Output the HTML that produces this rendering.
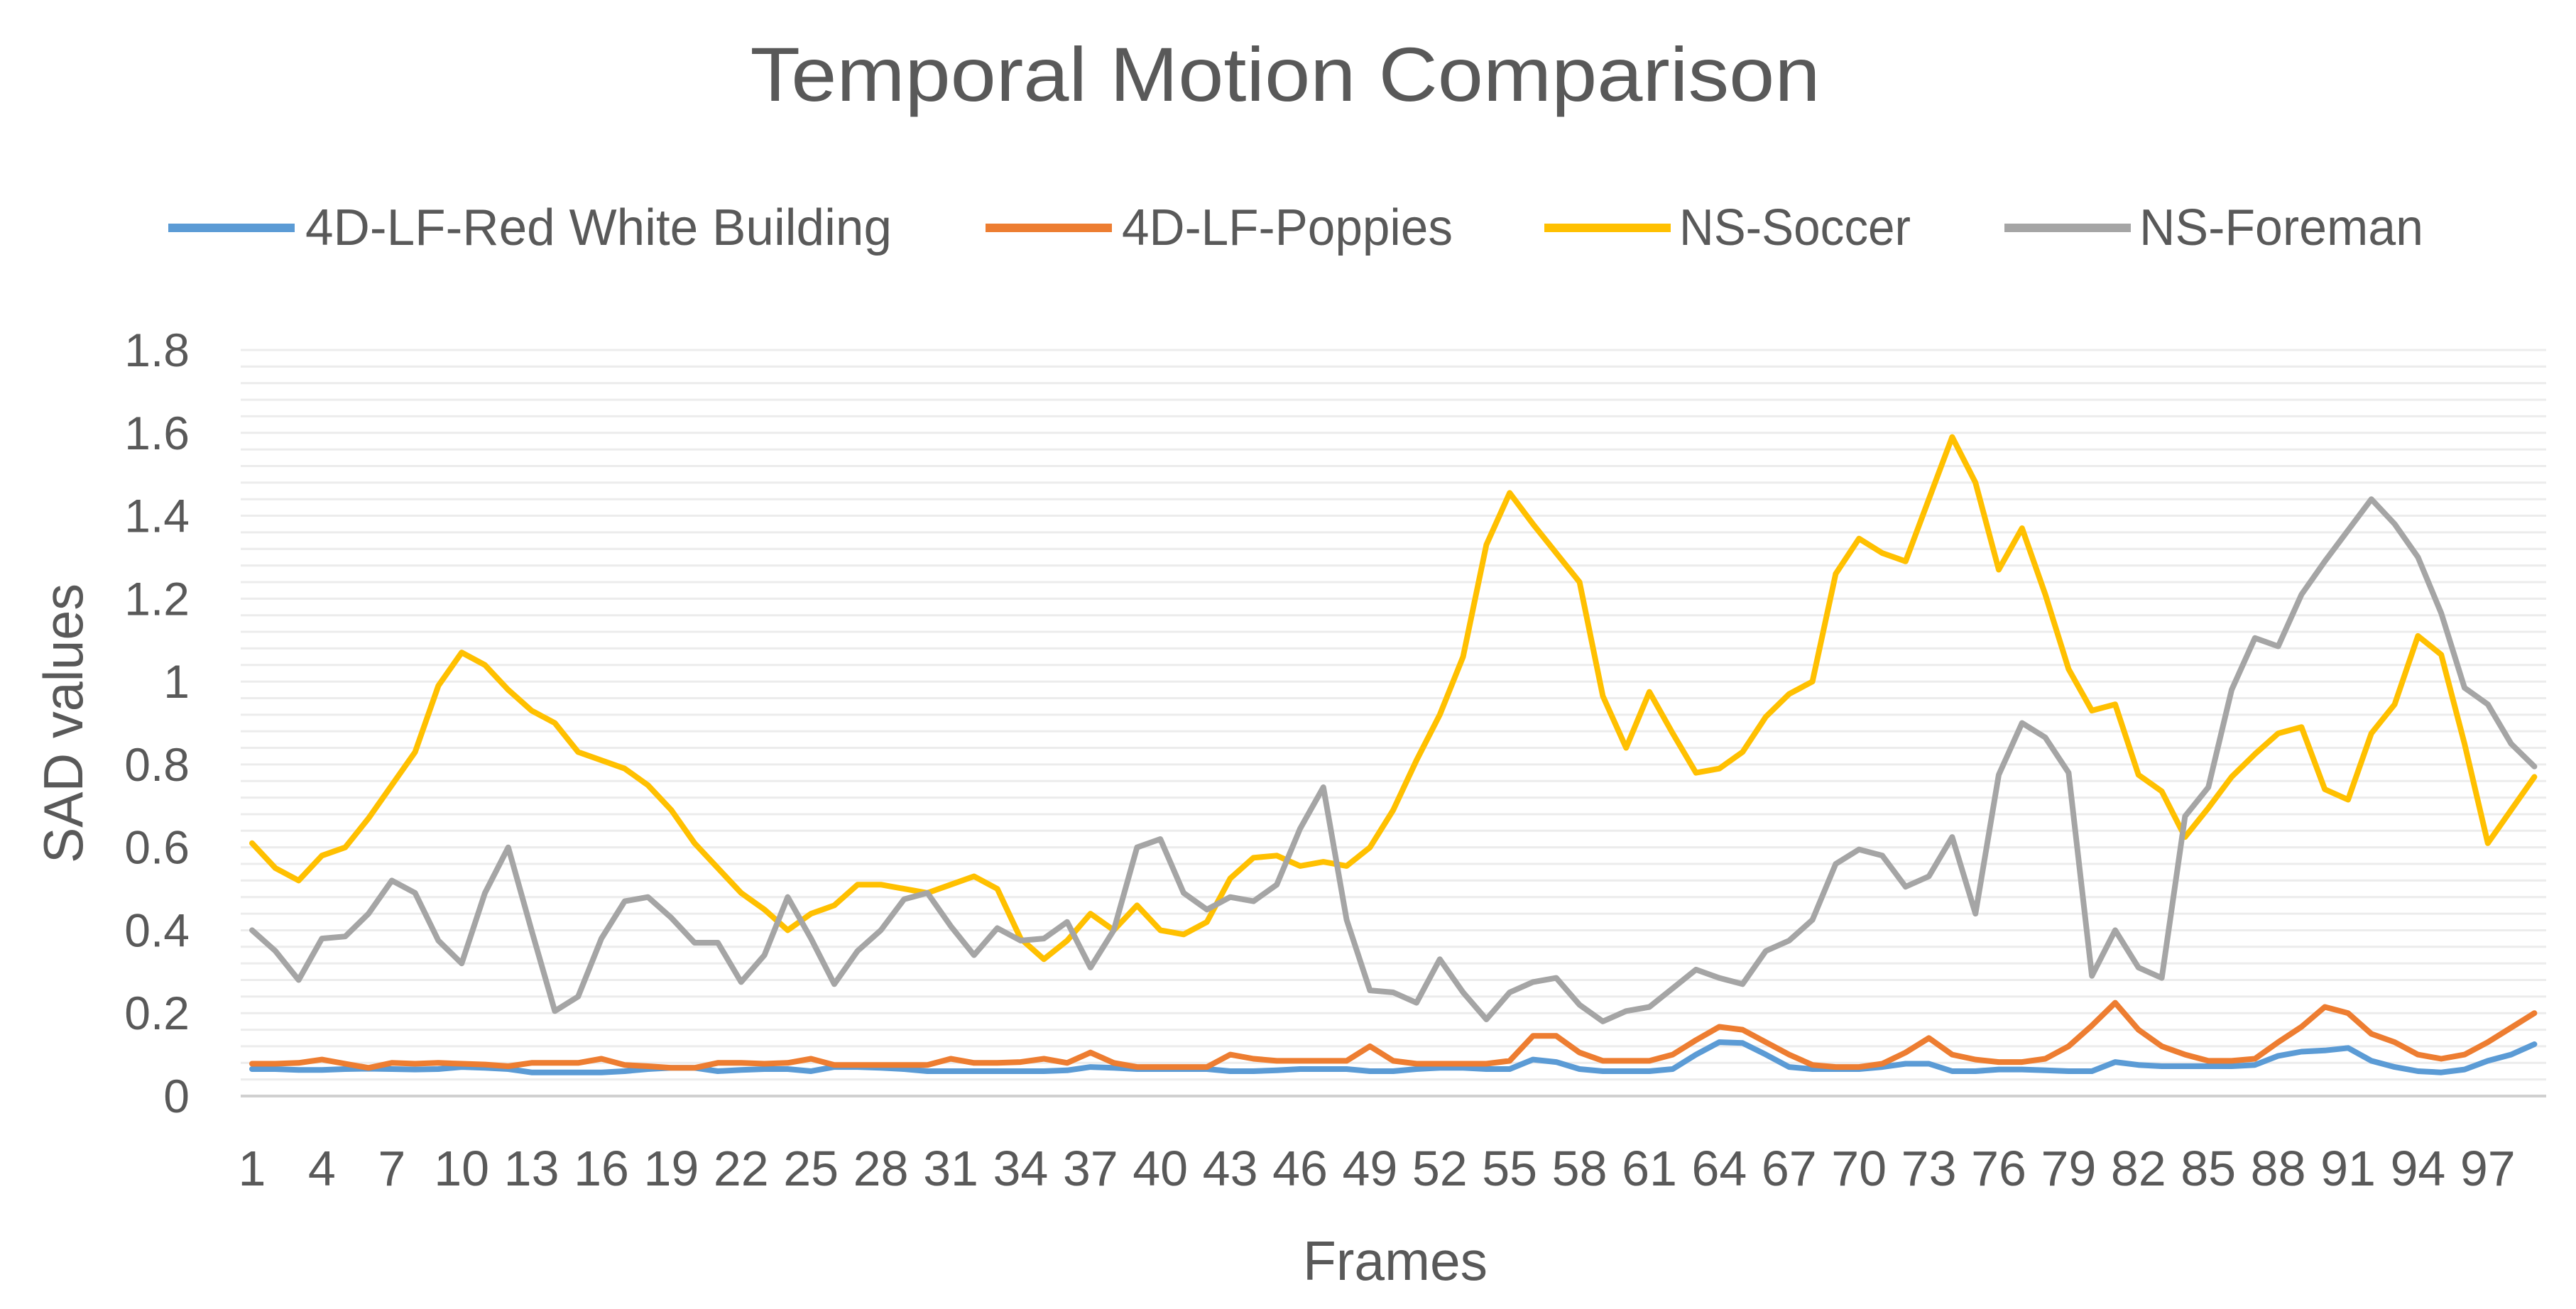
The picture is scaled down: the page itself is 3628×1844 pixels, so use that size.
<!DOCTYPE html>
<html><head><meta charset="utf-8"><style>
html,body{margin:0;padding:0;background:#fff;}
svg{display:block;}
text{font-family:"Liberation Sans",sans-serif;fill:#595959;}
</style></head><body>
<svg id="chart" width="3628" height="1844" viewBox="0 0 3628 1844" xmlns="http://www.w3.org/2000/svg">
<rect width="3628" height="1844" fill="#fff"/>
<text x="1810" y="142" font-size="108" text-anchor="middle" textLength="1507" lengthAdjust="spacingAndGlyphs">Temporal Motion Comparison</text>
<g id="grid"></g>
<g id="yticks"></g>
<g id="xticks"></g>
<g id="series"></g>
<text transform="translate(116,1019) rotate(-90)" font-size="78" text-anchor="middle" textLength="394" lengthAdjust="spacingAndGlyphs">SAD values</text>
<text x="1965" y="1803" font-size="78" text-anchor="middle" textLength="260" lengthAdjust="spacingAndGlyphs">Frames</text>
<g>
 <g>
  <line x1="237" y1="321" x2="415" y2="321" stroke="#5b9bd5" stroke-width="12"/>
  <text x="430" y="345" font-size="72" textLength="826" lengthAdjust="spacingAndGlyphs">4D-LF-Red White Building</text>
 </g>
 <g>
  <line x1="1388" y1="321" x2="1566" y2="321" stroke="#ed7d31" stroke-width="12"/>
  <text x="1580" y="345" font-size="72" textLength="466" lengthAdjust="spacingAndGlyphs">4D-LF-Poppies</text>
 </g>
 <g>
  <line x1="2175" y1="321" x2="2353" y2="321" stroke="#ffc000" stroke-width="12"/>
  <text x="2365" y="345" font-size="72" textLength="326" lengthAdjust="spacingAndGlyphs">NS-Soccer</text>
 </g>
 <g>
  <line x1="2823" y1="321" x2="3001" y2="321" stroke="#a5a5a5" stroke-width="12"/>
  <text x="3013" y="345" font-size="72" textLength="400" lengthAdjust="spacingAndGlyphs">NS-Foreman</text>
 </g>
</g>
</svg>
<script>
const yTickLabels = ["0","0.2","0.4","0.6","0.8","1","1.2","1.4","1.6","1.8"];
const yTickValues = [0,0.2,0.4,0.6,0.8,1,1.2,1.4,1.6,1.8];
const blueRWB = [0.065,0.065,0.063,0.063,0.065,0.066,0.065,0.064,0.065,0.07,0.068,0.065,0.057,0.057,0.057,0.057,0.06,0.065,0.068,0.068,0.06,0.063,0.065,0.065,0.06,0.07,0.07,0.068,0.065,0.06,0.06,0.06,0.06,0.06,0.06,0.062,0.07,0.068,0.065,0.065,0.065,0.065,0.06,0.06,0.062,0.065,0.065,0.065,0.06,0.06,0.065,0.068,0.068,0.065,0.065,0.088,0.082,0.065,0.06,0.06,0.06,0.065,0.1,0.13,0.128,0.1,0.07,0.065,0.065,0.065,0.07,0.078,0.078,0.06,0.06,0.064,0.064,0.062,0.06,0.06,0.082,0.075,0.072,0.072,0.072,0.072,0.075,0.097,0.107,0.11,0.116,0.085,0.07,0.06,0.057,0.064,0.085,0.1,0.125];
const orangePoppies = [0.078,0.078,0.08,0.088,0.078,0.068,0.08,0.078,0.08,0.078,0.076,0.072,0.08,0.08,0.08,0.09,0.075,0.072,0.068,0.068,0.08,0.08,0.078,0.08,0.09,0.075,0.075,0.075,0.075,0.075,0.09,0.08,0.08,0.082,0.09,0.08,0.105,0.08,0.07,0.07,0.07,0.07,0.1,0.09,0.085,0.085,0.085,0.085,0.12,0.085,0.078,0.078,0.078,0.078,0.085,0.145,0.145,0.105,0.085,0.085,0.085,0.1,0.135,0.167,0.16,0.13,0.1,0.075,0.07,0.07,0.078,0.105,0.14,0.1,0.088,0.082,0.082,0.09,0.12,0.17,0.225,0.16,0.12,0.1,0.085,0.085,0.09,0.13,0.167,0.215,0.2,0.15,0.13,0.1,0.09,0.1,0.13,0.165,0.2];
const yellowSoccer = [0.61,0.55,0.52,0.58,0.6,0.67,0.75,0.83,0.99,1.07,1.04,0.98,0.93,0.9,0.83,0.81,0.79,0.75,0.69,0.61,0.55,0.49,0.45,0.4,0.44,0.46,0.51,0.51,0.5,0.49,0.51,0.53,0.5,0.38,0.33,0.375,0.44,0.4,0.46,0.4,0.39,0.42,0.525,0.575,0.58,0.555,0.565,0.555,0.6,0.69,0.81,0.92,1.06,1.33,1.455,1.38,1.31,1.24,0.965,0.84,0.975,0.875,0.78,0.79,0.83,0.915,0.97,1.0,1.26,1.345,1.31,1.29,1.44,1.59,1.48,1.27,1.37,1.21,1.03,0.93,0.945,0.775,0.735,0.625,0.695,0.77,0.825,0.875,0.89,0.74,0.715,0.875,0.945,1.11,1.065,0.85,0.61,0.69,0.77];
const grayForeman = [0.4,0.35,0.28,0.38,0.385,0.44,0.52,0.49,0.375,0.32,0.49,0.6,0.4,0.205,0.24,0.38,0.47,0.48,0.43,0.37,0.37,0.275,0.34,0.48,0.38,0.27,0.35,0.4,0.475,0.49,0.41,0.34,0.405,0.375,0.38,0.42,0.31,0.4,0.6,0.62,0.49,0.45,0.48,0.47,0.51,0.645,0.745,0.425,0.255,0.25,0.225,0.33,0.25,0.185,0.25,0.275,0.285,0.22,0.18,0.205,0.215,0.26,0.305,0.285,0.27,0.35,0.375,0.425,0.56,0.595,0.58,0.505,0.53,0.625,0.44,0.775,0.9,0.865,0.78,0.29,0.4,0.31,0.285,0.675,0.745,0.98,1.105,1.085,1.21,1.29,1.365,1.44,1.38,1.3,1.165,0.985,0.945,0.85,0.795];

const NS='http://www.w3.org/2000/svg';
const X0=355, DX=32.8, Y0=1544, YMAX=1.8, YPIX=1051;
function xPos(i){return X0+DX*i;}
function yPos(v){return Y0-v/YMAX*YPIX;}
const grid=document.getElementById('grid');
for(let k=0;k<=45;k++){
  const v=k*0.04;
  const l=document.createElementNS(NS,'line');
  
  
  l.setAttribute('x1',339);l.setAttribute('x2',3586);
  l.setAttribute('y1',yPos(v));l.setAttribute('y2',yPos(v));
  l.setAttribute('stroke',k===0?'#d0d0d0':'#ececec');
  l.setAttribute('stroke-width',k===0?4:3);
  grid.appendChild(l);
}
const yt=document.getElementById('yticks');
yTickValues.forEach((v,i)=>{
  const t=document.createElementNS(NS,'text');
  
  
  t.setAttribute('x',267);t.setAttribute('y',yPos(v)+23);
  t.setAttribute('font-size',66);t.setAttribute('text-anchor','end');
  t.textContent=yTickLabels[i];
  yt.appendChild(t);
});
const xt=document.getElementById('xticks');
for(let i=0;i<yellowSoccer.length;i+=3){
  const t=document.createElementNS(NS,'text');
  
  
  t.setAttribute('x',xPos(i));t.setAttribute('y',1670);
  t.setAttribute('font-size',70);t.setAttribute('text-anchor','middle');
  t.textContent=String(i+1);
  xt.appendChild(t);
}
const seriesList=[[blueRWB,'#5b9bd5','series-red-white-building'],[orangePoppies,'#ed7d31','series-poppies'],[yellowSoccer,'#ffc000','series-ns-soccer'],[grayForeman,'#a5a5a5','series-ns-foreman']];
const sg=document.getElementById('series');
seriesList.forEach(s=>{
  const p=document.createElementNS(NS,'polyline');
  
  
  p.setAttribute('points',s[0].map((v,i)=>xPos(i).toFixed(1)+','+yPos(v).toFixed(1)).join(' '));
  p.setAttribute('fill','none');p.setAttribute('stroke',s[1]);
  p.setAttribute('stroke-width',8);p.setAttribute('stroke-linejoin','round');p.setAttribute('stroke-linecap','round');
  sg.appendChild(p);
});
</script>
</body></html>
